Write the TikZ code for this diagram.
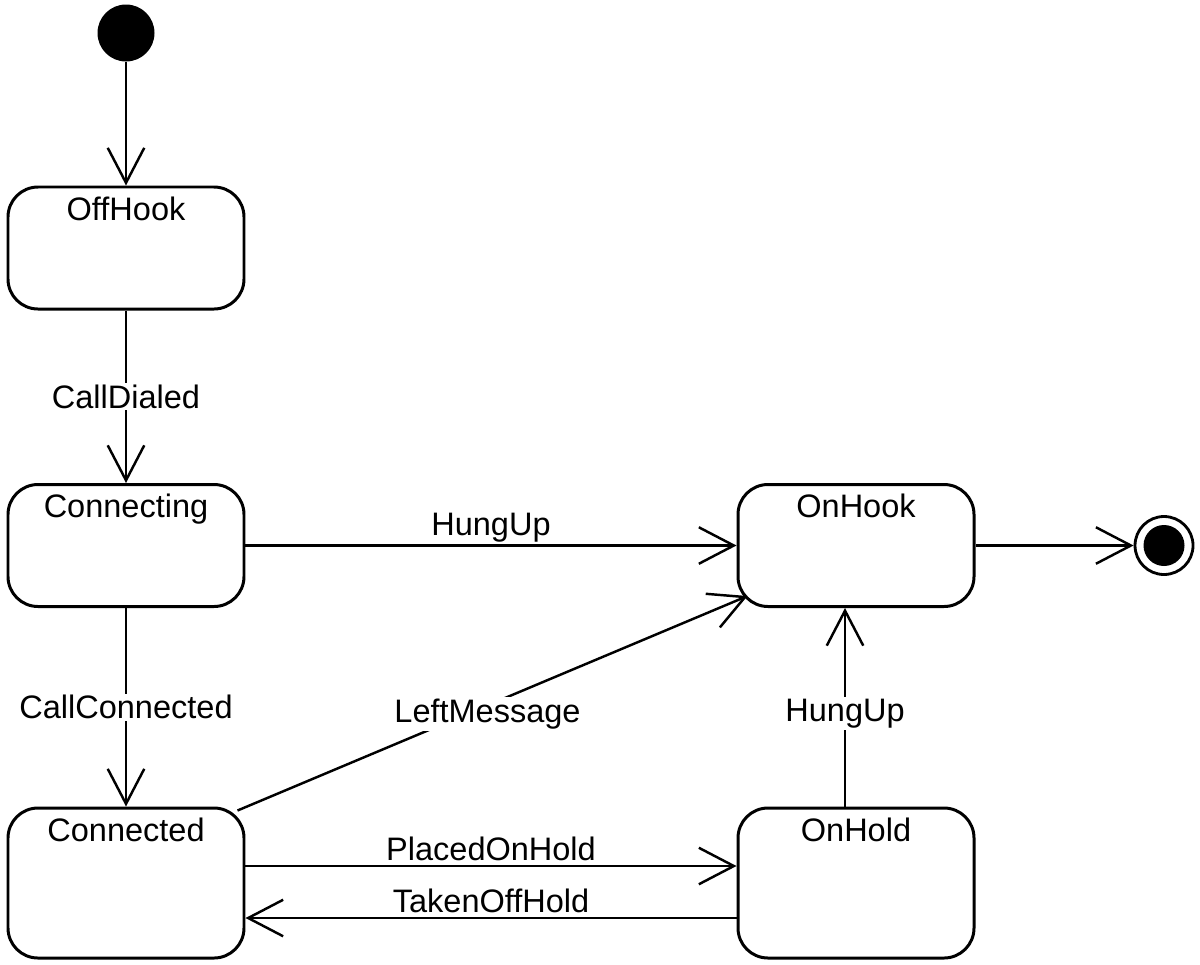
\documentclass[tikz,border=0pt]{standalone}
\usepackage{fontspec}
\setmainfont{Liberation Sans}
\usetikzlibrary{arrows.meta}
\tikzstyle{state} = [rectangle, rounded corners=0.6cm, minimum width=4.72cm, minimum height=2.44cm, draw=black, line width=1.7pt]
\tikzstyle{tall} = [minimum height=3cm]
\tikzstyle{initial} = [circle, fill=black, minimum size=1.14cm, inner sep=0pt]
\tikzstyle{final} = [circle, draw=black, line width=1.6pt, minimum size=1.16cm, inner sep=0pt, path picture={\fill (path picture bounding box.center) circle (0.41cm);}]
\tikzstyle{arrow} = [line width=1.4pt, -{Straight Barb[length=0.7cm, width=0.73cm, line width=1.4pt]}]
\tikzstyle{lbl} = [fill=white, inner sep=1pt]

\begin{document}
\begin{tikzpicture}[node distance=5.95cm, font=\fontsize{18.5}{22}\selectfont]
\useasboundingbox (0,0) rectangle (24,-19.28);
\node (start) [initial] at (2.52,-0.66) {};
\node (offhook) [state, below of=start, yshift=1.65cm, label={[anchor=north, yshift=-0.1cm]north:OffHook}] {};
\node (connecting) [state, below of=offhook, label={[anchor=north, yshift=-0.1cm]north:Connecting}] {};
\node (connected) [state, tall, below of=connecting, yshift=-0.8cm, label={[anchor=north, yshift=-0.1cm]north:Connected}] {};
\node (onhook) [state, right of=connecting, xshift=8.65cm, label={[anchor=north, yshift=-0.1cm]north:OnHook}] {};
\node (onhold) [state, tall, below of=onhook, yshift=-0.8cm, label={[anchor=north, yshift=-0.1cm]north:OnHold}] {};
\node (stop) [final, right of=onhook, xshift=0.21cm] {};
\draw [arrow] (start) -- (offhook);
\draw [arrow] (offhook) -- node[lbl] {CallDialed} (connecting);
\draw [arrow] (connecting) -- node[lbl] {CallConnected} (connected);
\draw [arrow] (connecting) -- node[lbl, above=0pt] {HungUp} (onhook);
\draw [arrow] (onhook) -- (stop);
\draw [arrow] ([shift={(-0.16,-0.08)}]connected.north east) -- node[lbl, xshift=-0.1cm, yshift=-0.21cm] {LeftMessage} ([shift={(0.22,0.24)}]onhook.south west);
\draw [arrow] ([xshift=-0.22cm]onhold.north) -- node[lbl, yshift=-0.13cm] {HungUp} ([xshift=-0.22cm]onhook.south);
\draw [arrow] ([yshift=0.34cm]connected.east) -- node[lbl, above=1pt] {PlacedOnHold} ([yshift=0.34cm]onhold.west);
\draw [arrow] ([yshift=-0.7cm]onhold.west) -- node[lbl, above=1pt] {TakenOffHold} ([yshift=-0.7cm]connected.east);
\end{tikzpicture}
\end{document}
